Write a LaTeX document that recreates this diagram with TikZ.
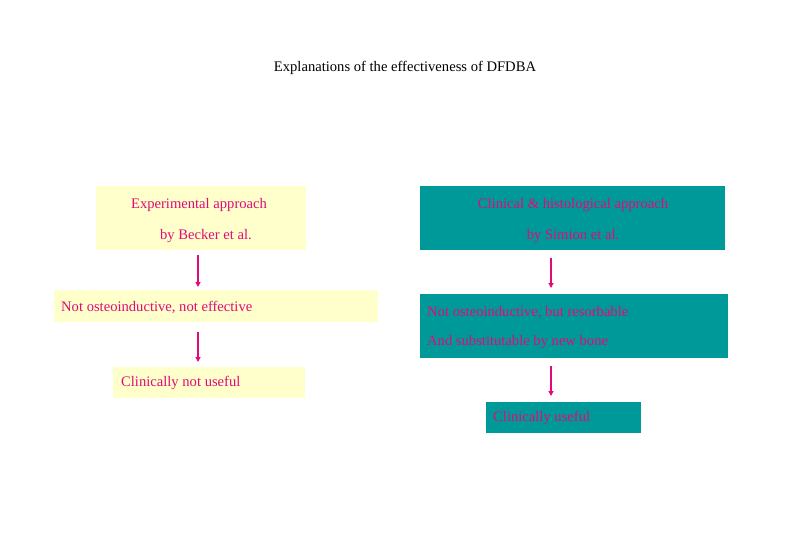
\documentclass[tikz,border=0pt]{standalone}
\usepackage{fontspec}
\setmainfont{Liberation Serif}
\usetikzlibrary{arrows.meta}
\definecolor{boxyellow}{RGB}{255,255,204}
\definecolor{boxteal}{RGB}{0,153,153}
\definecolor{txtpink}{RGB}{226,10,120}
\begin{document}
\begin{tikzpicture}[x=1pt,y=-1pt,
  ybox/.style={fill=boxyellow,draw=none},
  tbox/.style={fill=boxteal,draw=none},
  lbl/.style={text=txtpink,font=\fontsize{14.6}{16}\selectfont,inner sep=0pt},
  flow/.style={draw=txtpink,line width=1.3pt,-{Triangle[length=5pt,width=5pt]}}]
\useasboundingbox (0,0) rectangle (810,540);
\node[font=\fontsize{14.6}{16}\selectfont,inner sep=0pt] (title) at (405,68) {Explanations of the effectiveness of DFDBA};
% left column
\fill[ybox] (96,186) rectangle (306,250);
\node[inner sep=0pt,minimum width=210pt,minimum height=64pt] (b1) at (201,218) {};
\node[lbl] (b1a) at (199,205) {Experimental approach};
\node[lbl] (b1b) at (206,236) {by Becker et al.};
\fill[ybox] (54,290) rectangle (378,322);
\node[inner sep=0pt,minimum width=324pt,minimum height=32pt] (b3) at (216,306) {};
\node[lbl,anchor=west] (b3t) at (61,307) {Not osteoinductive, not effective};
\fill[ybox] (113,367) rectangle (305,398);
\node[inner sep=0pt,minimum width=192pt,minimum height=31pt] (b4) at (209,382.5) {};
\node[lbl,anchor=west] (b4t) at (121,383) {Clinically not useful};
% right column
\fill[tbox] (420,186) rectangle (725,250);
\node[inner sep=0pt,minimum width=305pt,minimum height=64pt] (b2) at (572.5,218) {};
\node[lbl] (b2a) at (573,205) {Clinical \& histological approach};
\node[lbl] (b2b) at (573,236) {by Simion et al.};
\fill[tbox] (420,294) rectangle (728,358);
\node[inner sep=0pt,minimum width=308pt,minimum height=64pt] (b5) at (574,326) {};
\node[lbl,anchor=west] (b5a) at (427,313) {Not osteoinductive, but resorbable};
\node[lbl,anchor=west] (b5b) at (427,342) {And substitutable by new bone};
\fill[tbox] (486,402) rectangle (641,433);
\node[inner sep=0pt,minimum width=155pt,minimum height=31pt] (b6) at (563.5,417.5) {};
\node[lbl,anchor=west] (b6t) at (493,418) {Clinically useful};
% arrows
\coordinate (a1s) at (198,255); \coordinate (a1e) at (198,287);
\coordinate (a2s) at (198,332); \coordinate (a2e) at (198,362);
\coordinate (a3s) at (551,258); \coordinate (a3e) at (551,288);
\coordinate (a4s) at (551,366); \coordinate (a4e) at (551,396);
\draw[flow] (a1s) -- (a1e);
\draw[flow] (a2s) -- (a2e);
\draw[flow] (a3s) -- (a3e);
\draw[flow] (a4s) -- (a4e);
\end{tikzpicture}
\end{document}
